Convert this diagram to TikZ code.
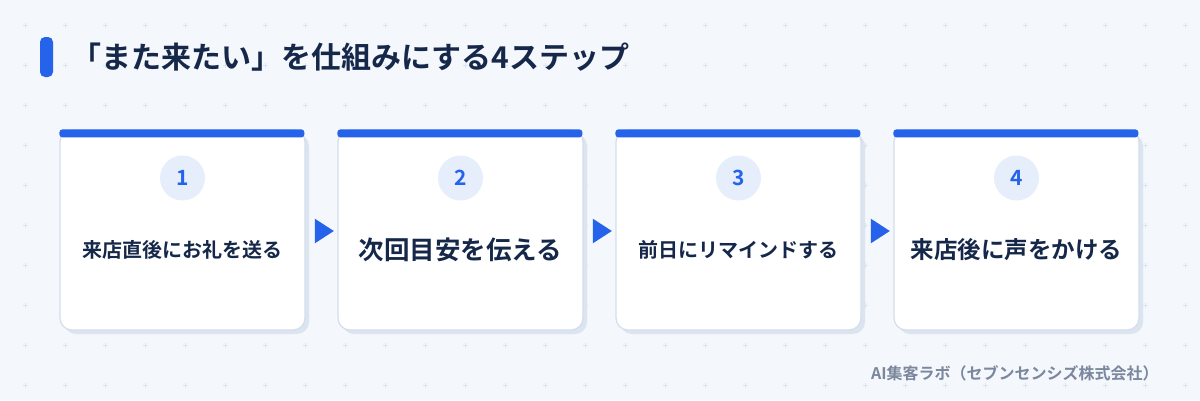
\documentclass[tikz,border=0pt]{standalone}
\usepackage{fontspec}
\setmainfont{Noto Sans CJK JP}[BoldFont={* Bold}]
\usetikzlibrary{positioning,shapes.geometric,shadows,calc}

\definecolor{bgcol}{HTML}{F4F7FC}
\definecolor{stepblue}{HTML}{2563EB}
\definecolor{navy}{HTML}{16284A}
\definecolor{cardline}{HTML}{D3DEEC}
\definecolor{cardshadow}{HTML}{DCE4F0}
\definecolor{numfill}{HTML}{E6EEFB}
\definecolor{gridcol}{HTML}{DDE4EF}
\definecolor{footcol}{HTML}{7B879D}

\begin{document}
\begin{tikzpicture}[x=1pt,y=-1pt,
	card/.style={draw=cardline,line width=1.2pt,fill=white,rounded corners=12pt,
		minimum width=245pt,minimum height=200pt,inner sep=0pt,
		drop shadow={shadow xshift=4pt,shadow yshift=-4pt,fill=cardshadow,opacity=1}},
	topbar/.style={fill=stepblue,rounded corners=3pt},
	numdot/.style={circle,fill=numfill,minimum size=45pt,inner sep=0pt,
		text=stepblue,font=\bfseries\fontsize{21}{24}\selectfont},
	steptext/.style={text=navy,inner sep=0pt},
	flow/.style={isosceles triangle,isosceles triangle apex angle=66,fill=stepblue,
		minimum height=19pt,inner sep=0pt}]

	% background and dotted grid
	\fill[bgcol] (0,0) rectangle (1200,400);
	\foreach \gx in {25,65,...,1185}
		\foreach \gy in {25,65,...,385}
			\draw[gridcol,line width=0.8pt] (\gx-2.5,\gy) -- (\gx+2.5,\gy) (\gx,\gy-2.5) -- (\gx,\gy+2.5);

	% title
	\fill[stepblue,rounded corners=5pt] (40,37) rectangle (53,77);
	\node[anchor=west,text=navy,inner sep=0pt,font=\bfseries\fontsize{30}{33}\selectfont] (title) at (71,57) {「また来たい」を仕組みにする4ステップ};

	% cards
	\foreach \n/\cx/\txt/\fs in {1/182.5/来店直後にお礼を送る/20,2/460.5/次回目安を伝える/25.5,3/738.5/前日にリマインドする/20,4/1016.5/来店後に声をかける/23.5}{
		\node[card] (card\n) at (\cx,230) {};
		\fill[topbar] (card\n.north west) rectangle ++(245,8);
		\node[numdot] (num\n) at (\cx,178) {\n};
		\node[steptext,font=\bfseries\fontsize{\fs}{\fs}\selectfont] (text\n) at (\cx,250) {\txt};
	}

	% arrows between cards
	\node[flow] (go1) at ($(card1.east)!0.5!(card2.west)+(0,1)$) {};
	\node[flow] (go2) at ($(card2.east)!0.5!(card3.west)+(0,1)$) {};
	\node[flow] (go3) at ($(card3.east)!0.5!(card4.west)+(0,1)$) {};

	% footer
	\node[anchor=west,text=footcol,inner sep=0pt,font=\bfseries\fontsize{16}{18}\selectfont] (credit) at (871,373) {AI集客ラボ（セブンセンシズ株式会社）};
\end{tikzpicture}
\end{document}
